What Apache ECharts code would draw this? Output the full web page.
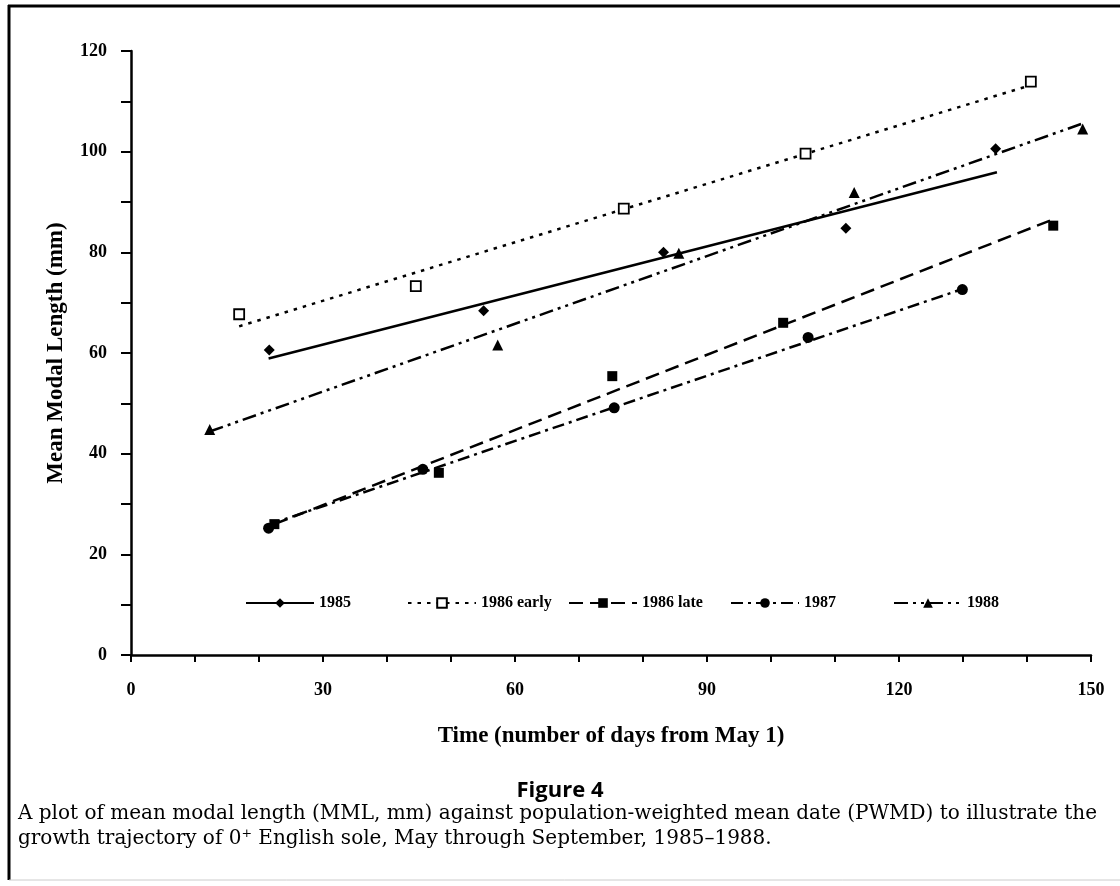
<!DOCTYPE html>
<html style="height: 100%">
<head>
    <meta charset="utf-8">
    <title>Figure 4 - mean modal length</title>
</head>
<body style="height: 100%; margin: 0; background: #fff">
<div id="container" style="width: 1120px; height: 886px"></div>
<script type="text/javascript" src="https://cdn.jsdelivr.net/npm/echarts@6/dist/echarts.min.js"></script>
<script type="text/javascript">
    // observed points: [days from May 1, mean modal length mm]
    var pts1985 = [[21.6, 60.6], [55.1, 68.4], [83.2, 80.0], [111.7, 84.8], [135.1, 100.6]];
    var pts1986early = [[16.9, 67.7], [44.5, 73.3], [77.0, 88.7], [105.4, 99.6], [140.6, 113.9]];
    var pts1986late = [[22.4, 26.0], [48.1, 36.2], [75.2, 55.4], [101.9, 66.0], [144.1, 85.3]];
    var pts1987 = [[21.5, 25.2], [45.6, 36.9], [75.5, 49.1], [105.8, 63.1], [129.9, 72.6]];
    var pts1988 = [[12.3, 44.8], [57.3, 61.6], [85.6, 79.8], [113.0, 91.9], [148.7, 104.5]];

    // fitted lines, end points
    var fit1985 = [[21.5, 58.9], [135.3, 95.9]];
    var fit1986early = [[16.9, 65.3], [139.8, 112.9]];
    var fit1986late = [[22.4, 26.0], [143.6, 86.3]];
    var fit1987 = [[21.5, 25.9], [129.9, 72.7]];
    var fit1988 = [[12.3, 44.4], [148.7, 105.6]];

    var years = ['1985', '1986 early', '1986 late', '1987', '1988'];
    var xLabels = [0, 30, 60, 90, 120, 150];
    var yLabels = [0, 20, 40, 60, 80, 100, 120];

    var points = [pts1985, pts1986early, pts1986late, pts1987, pts1988];
    var fits = [fit1985, fit1986early, fit1986late, fit1987, fit1988];

    // marker + line style per group
    var marks = [
        {symbol: 'diamond', size: 11, fill: '#000', dash: 'solid'},
        {symbol: 'rect', size: 10, fill: '#fff', dash: [3.5, 6]},
        {symbol: 'rect', size: 10, fill: '#000', dash: [14, 7]},
        {symbol: 'circle', size: 11, fill: '#000', dash: [12, 5, 3, 5]},
        {symbol: 'triangle', size: 11, fill: '#000', dash: [14, 5, 3, 5, 3, 5]}
    ];
    var legendLeft = [240, 402, 563, 725, 888];

    var serif = 'Liberation Serif';
    var black = '#000';

    var series = [];
    var legends = [];
    years.forEach(function (name, i) {
        var m = marks[i];
        series.push({
            name: name,
            type: 'line',
            data: fits[i],
            symbol: m.symbol,
            showSymbol: false,
            silent: true,
            lineStyle: {color: black, width: 2.5, type: m.dash},
            itemStyle: {
                color: m.fill,
                borderColor: black,
                borderWidth: m.fill === '#fff' ? 1.8 : 0
            },
            z: 2
        });
        legends.push({
            data: [name],
            left: legendLeft[i],
            top: 590,
            itemWidth: 68,
            itemHeight: 12,
            itemGap: 0,
            textStyle: {fontFamily: serif, fontWeight: 'bold', fontSize: 16, color: black}
        });
    });
    years.forEach(function (name, i) {
        var m = marks[i];
        series.push({
            name: name,
            type: 'scatter',
            data: points[i],
            symbol: m.symbol,
            symbolSize: m.size,
            itemStyle: {
                color: m.fill,
                borderColor: black,
                borderWidth: m.fill === '#fff' ? 1.8 : 0,
                opacity: 1
            },
            z: 3
        });
    });

    var dom = document.getElementById('container');
    var myChart = echarts.init(dom);

    var option = {
        backgroundColor: '#fff',
        animation: false,
        title: {
            text: 'Figure 4',
            left: 'center',
            top: 775,
            textStyle: {fontFamily: 'Open Sans', fontWeight: 'bold', fontSize: 22, color: black}
        },
        legend: legends,
        grid: {left: 131, top: 51, width: 960, height: 604},
        xAxis: {
            type: 'value',
            min: 0,
            max: 150,
            interval: 10,
            name: 'Time (number of days from May 1)',
            nameLocation: 'middle',
            nameGap: 70,
            nameTextStyle: {fontFamily: serif, fontWeight: 'bold', fontSize: 23, color: black},
            axisLine: {show: true, lineStyle: {color: black, width: 2.5}},
            axisTick: {show: true, length: 7, lineStyle: {color: black, width: 2}},
            axisLabel: {
                margin: 26,
                fontFamily: serif,
                fontWeight: 'bold',
                fontSize: 18,
                color: black,
                formatter: function (v) {
                    return xLabels.indexOf(v) >= 0 ? String(v) : '';
                }
            },
            splitLine: {show: false}
        },
        yAxis: {
            type: 'value',
            min: 0,
            max: 120,
            interval: 10,
            name: 'Mean Modal Length (mm)',
            nameLocation: 'middle',
            nameGap: 63,
            nameRotate: 90,
            nameTextStyle: {fontFamily: serif, fontWeight: 'bold', fontSize: 23, color: black},
            axisLine: {show: true, lineStyle: {color: black, width: 2.5}},
            axisTick: {show: true, length: 10, lineStyle: {color: black, width: 2}},
            axisLabel: {
                margin: 24,
                fontFamily: serif,
                fontWeight: 'bold',
                fontSize: 18,
                color: black,
                formatter: function (v) {
                    return yLabels.indexOf(v) >= 0 ? String(v) : '';
                }
            },
            splitLine: {show: false}
        },
        graphic: [
            {type: 'line', shape: {x1: 8, y1: 6, x2: 1120, y2: 6}, style: {stroke: black, lineWidth: 3}},
            {type: 'line', shape: {x1: 9, y1: 5, x2: 9, y2: 880}, style: {stroke: black, lineWidth: 3}},
            {type: 'line', shape: {x1: 9, y1: 880, x2: 1120, y2: 880}, style: {stroke: '#ccc', lineWidth: 1}},
            {
                type: 'text',
                left: 18,
                top: 801,
                style: {
                    text: 'A plot of mean modal length (MML, mm) against population-weighted mean date (PWMD) to illustrate the\ngrowth trajectory of 0\u207a English sole, May through September, 1985\u20131988.',
                    font: '20px "DejaVu Serif"',
                    lineHeight: 25,
                    fill: black
                }
            }
        ],
        series: series
    };

    myChart.setOption(option);
</script>
</body>
</html>
